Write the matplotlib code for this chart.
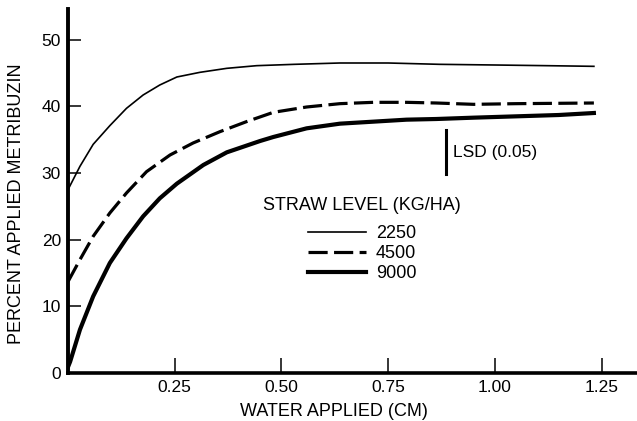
import matplotlib
matplotlib.use('Agg')
import matplotlib.pyplot as plt

plt.rcParams['font.family'] = ['Liberation Sans', 'DejaVu Sans']

# straw level 2250 kg/ha
x_2250 = [0, 0.028, 0.059, 0.098, 0.137, 0.176, 0.215, 0.255, 0.309, 0.372, 0.442,
          0.53, 0.637, 0.75, 0.871, 1.0, 1.12, 1.232]
y_2250 = [27.5, 31.0, 34.3, 37.1, 39.7, 41.7, 43.2, 44.4, 45.1, 45.7, 46.1,
          46.3, 46.5, 46.5, 46.3, 46.2, 46.1, 46.0]

# straw level 4500 kg/ha
x_4500 = [0, 0.028, 0.059, 0.098, 0.137, 0.184, 0.239, 0.293, 0.356, 0.418, 0.481,
          0.559, 0.637, 0.715, 0.793, 0.863, 0.95, 1.05, 1.232]
y_4500 = [13.7, 17.0, 20.5, 24.0, 27.0, 30.2, 32.7, 34.5, 36.2, 37.7, 39.1,
          39.9, 40.4, 40.6, 40.6, 40.5, 40.3, 40.4, 40.5]

# straw level 9000 kg/ha
x_9000 = [0, 0.005, 0.028, 0.059, 0.098, 0.137, 0.176, 0.215, 0.255, 0.317, 0.372,
          0.45, 0.481, 0.559, 0.637, 0.715, 0.793, 0.863, 0.95, 1.05, 1.15, 1.232]
y_9000 = [0.9, 1.7, 6.5, 11.5, 16.5, 20.2, 23.5, 26.2, 28.4, 31.2, 33.1,
          34.8, 35.4, 36.7, 37.4, 37.7, 38.0, 38.1, 38.3, 38.5, 38.7, 39.0]

lsd_x = 0.885
lsd_range = [29.8, 36.4]

xticks = [0.25, 0.50, 0.75, 1.00, 1.25]
xtick_labels = ['0.25', '0.50', '0.75', '1.00', '1.25']
yticks = [0, 10, 20, 30, 40, 50]

fig = plt.figure(figsize=(6.37, 4.21), dpi=100)
ax = fig.add_axes([68 / 637, 48 / 421, 1 - 68 / 637, 364 / 421])

ax.plot(x_2250, y_2250, color='black', lw=1.2, label='2250')
ax.plot(x_4500, y_4500, color='black', lw=2.3, dashes=(6, 2), label='4500')
ax.plot(x_9000, y_9000, color='black', lw=3.0, label='9000')

# LSD bar
ax.plot([lsd_x, lsd_x], lsd_range, color='black', lw=2.2)
ax.text(lsd_x + 0.018, sum(lsd_range) / 2, 'LSD (0.05)', fontsize=12.5, va='center', ha='left')

ax.set_xlim(0, 1.333)
ax.set_ylim(0, 54.6)
ax.set_xticks(xticks)
ax.set_xticklabels(xtick_labels)
ax.set_yticks(yticks)

for side in ['top', 'right']:
    ax.spines[side].set_visible(False)
ax.spines['left'].set_linewidth(2.8)
ax.spines['bottom'].set_linewidth(2.6)

ax.tick_params(axis='x', direction='in', length=11, width=1.1, labelsize=12.5, pad=5)
ax.tick_params(axis='y', direction='in', length=9, width=1.1, labelsize=12.5, pad=5)

ax.set_xlabel('WATER APPLIED (CM)', fontsize=13)
ax.set_ylabel('PERCENT APPLIED METRIBUZIN', fontsize=13)
ax.xaxis.set_label_coords(0.467, -0.082)
ax.yaxis.set_label_coords(-0.075, 0.466)

# legend title drawn on its own, entries below it
ax.text(0.517, 0.4615, 'STRAW LEVEL (KG/HA)', transform=ax.transAxes,
        fontsize=13, ha='center', va='center')
ax.legend(loc='upper center', bbox_to_anchor=(0.517, 0.407),
          frameon=False, fontsize=13, handlelength=3.2,
          handletextpad=0.55, labelspacing=0.18, borderpad=0, borderaxespad=0)

fig.savefig('out.png', dpi=100)
